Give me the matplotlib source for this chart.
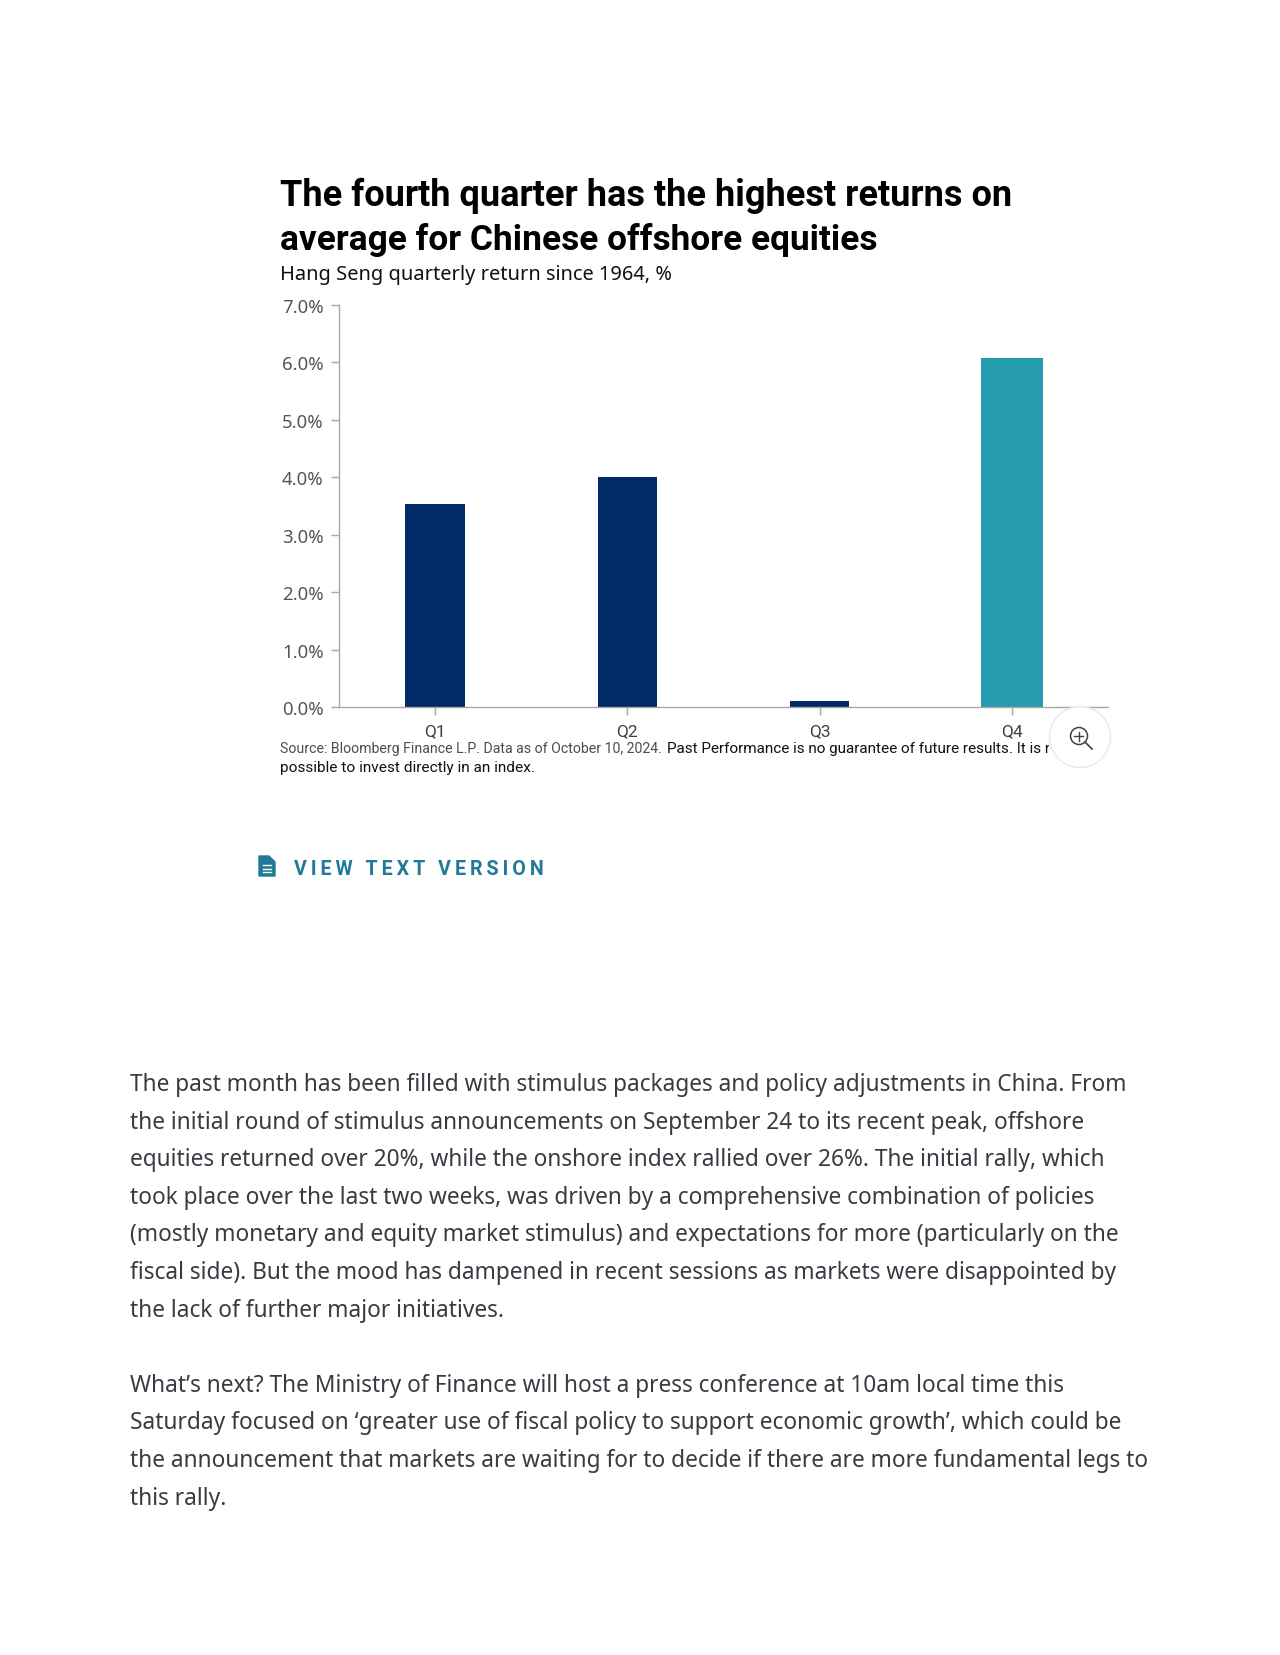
import matplotlib
matplotlib.use('Agg')
import matplotlib.pyplot as plt
from matplotlib.patches import Circle, Polygon, Rectangle

W, H = 1280, 1656

quarters = ['Q1', 'Q2', 'Q3', 'Q4']
returns = [3.53, 4.0, 0.1, 6.08]
bar_colors = ['#002b66', '#002b66', '#002b66', '#259bb0']
bar_widths = [0.31, 0.31, 0.31, 0.325]
y_ticks = [0, 1, 2, 3, 4, 5, 6, 7]

title_lines = ['The fourth quarter has the highest returns on',
               'average for Chinese offshore equities']
subtitle = 'Hang Seng quarterly return since 1964, %'
source_grey = 'Source: Bloomberg Finance L.P. Data as of October 10, 2024.'
source_black = 'Past Performance is no guarantee of future results. It is not'
source_line2 = 'possible to invest directly in an index.'
link = '\u2009'.join('VIEW TEXT VERSION')
body_1 = ['The past month has been filled with stimulus packages and policy adjustments in China. From',
          'the initial round of stimulus announcements on September 24 to its recent peak, offshore',
          'equities returned over 20%, while the onshore index rallied over 26%. The initial rally, which',
          'took place over the last two weeks, was driven by a comprehensive combination of policies',
          '(mostly monetary and equity market stimulus) and expectations for more (particularly on the',
          'fiscal side). But the mood has dampened in recent sessions as markets were disappointed by',
          'the lack of further major initiatives.']
body_2 = ['What\u2019s next? The Ministry of Finance will host a press conference at 10am local time this',
          'Saturday focused on \u2018greater use of fiscal policy to support economic growth\u2019, which could be',
          'the announcement that markets are waiting for to decide if there are more fundamental legs to',
          'this rally.']

plt.rcParams['font.family'] = ['Noto Sans', 'DejaVu Sans']
narrow = ['Liberation Sans Narrow', 'Roboto', 'DejaVu Sans']

fig = plt.figure(figsize=(W / 100, H / 100), dpi=100)

# axes placed in pixels
left, right, top, bottom = 339, 1108, 306, 708
ax = fig.add_axes([left / W, 1 - bottom / H, (right - left) / W, (bottom - top) / H])
ax.bar(range(4), returns, width=bar_widths, color=bar_colors, zorder=2)
ax.set_xlim(-0.5, 3.5)
ax.set_ylim(0, 7)
ax.set_yticks(y_ticks)
ax.set_yticklabels(['%.1f%%' % v for v in y_ticks], fontsize=13.4, color='#53565a')
ax.set_xticks(range(4))
ax.set_xticklabels(quarters, fontsize=12.5, color='#3c3f44', family=narrow)
for s in ['top', 'right']:
    ax.spines[s].set_visible(False)
for s in ['left', 'bottom']:
    ax.spines[s].set_color('#a8a8a8')
    ax.spines[s].set_linewidth(1)
ax.tick_params(axis='both', color='#a8a8a8', length=6, width=1)
ax.tick_params(axis='x', pad=5.5)
ax.tick_params(axis='y', pad=5)


def txt(x, y, s, width, color, weight='normal', family=None):
    # size is fitted so the line spans the given width in pixels
    t = fig.text(x / W, 1 - y / H, s, fontsize=10, color=color, weight=weight,
                 va='baseline', ha='left')
    if family:
        t.set_family(family)
    w = t.get_window_extent(fig.canvas.get_renderer()).width
    t.set_fontsize(10 * width / w)
    return t


heavy = ['Roboto', 'DejaVu Sans']
txt(280, 206, title_lines[0], 731, '#000000', 'bold', heavy)
txt(280, 250, title_lines[1], 599, '#000000', 'bold', heavy)
txt(280, 280, subtitle, 391, '#111111')

txt(280, 753, source_grey, 382, '#4a4d52', family=narrow)
txt(667, 753, source_black, 401, '#111111', family=narrow)
txt(280, 772, source_line2, 255, '#111111', family=narrow)

# magnifier button over the end of the source line
over = fig.add_axes([0, 0, 1, 1], facecolor='none', zorder=5)
over.set_xlim(0, W)
over.set_ylim(H, 0)
over.axis('off')
over.set_aspect('equal')
over.add_patch(Rectangle((1049, 740), 8, 22, fc='white', ec='none'))
over.add_patch(Circle((1080, 738), 30.5, fc='white', ec='#e8e8e8', lw=1))
over.add_patch(Circle((1079, 737), 8.5, fc='none', ec='#3c3f44', lw=1.1))
over.plot([1074.5, 1083.5], [737, 737], color='#3c3f44', lw=1)
over.plot([1079, 1079], [732.5, 741.5], color='#3c3f44', lw=1)
over.plot([1085, 1092], [743, 750], color='#3c3f44', lw=1.2)

# document icon
over.add_patch(Polygon([(259, 857), (269, 857), (275, 863), (275, 877), (259, 877)],
                       closed=True, fc='#1f7a99', ec='#1f7a99', lw=1, joinstyle='round'))
for yy in (866, 869.5, 873):
    over.plot([263, 271], [yy, yy], color='white', lw=1)

txt(294, 875, link, 251, '#1f7a99', 'bold', heavy)

y = 1091
for line in body_1:
    fig.text(130 / W, 1 - y / H, line, fontsize=16.35, color='#383b42', va='baseline', ha='left')
    y += 37.6
y += 37.6
for line in body_2:
    fig.text(130 / W, 1 - y / H, line, fontsize=16.35, color='#383b42', va='baseline', ha='left')
    y += 37.6

fig.savefig('out.png', dpi=100, facecolor='white')
